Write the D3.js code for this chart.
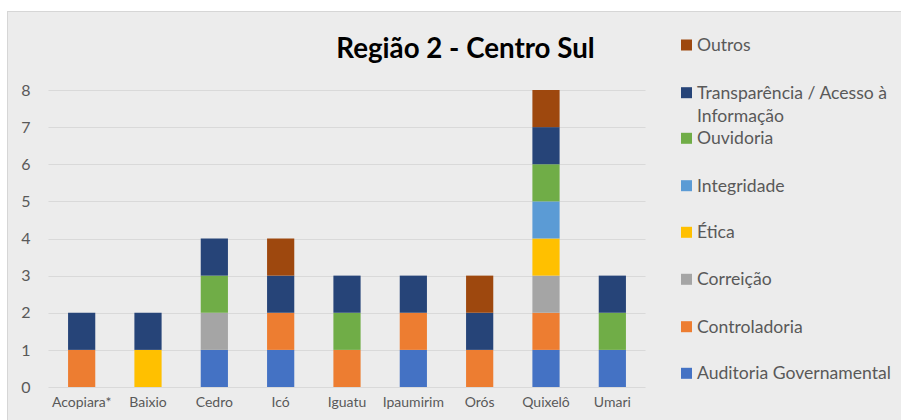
<!DOCTYPE html>
<html><head><meta charset="utf-8">
<script src="https://cdn.jsdelivr.net/npm/d3@7"></script>
<style>body{margin:0;background:#fff;}svg{display:block;}</style>
</head><body>
<svg id="c" width="901" height="420"></svg>
<script>
const categories = ["Acopiara*","Baixio","Cedro","Icó","Iguatu","Ipaumirim","Orós","Quixelô","Umari"];
const seriesNames = ["Auditoria Governamental","Controladoria","Correição","Ética","Integridade","Ouvidoria","Transparência / Acesso à Informação","Outros"];
const seriesColors = ["#4472C4","#ED7D31","#A5A5A5","#FFC000","#5B9BD5","#70AD47","#264478","#9E480E"];
const auditoria     = [0,0,1,1,0,1,0,1,1];
const controladoria = [1,0,0,1,1,1,1,1,0];
const correicao     = [0,0,1,0,0,0,0,1,0];
const etica         = [0,1,0,0,0,0,0,1,0];
const integridade   = [0,0,0,0,0,0,0,1,0];
const ouvidoria     = [0,0,1,0,1,0,0,1,1];
const transparencia = [1,1,1,1,1,1,1,1,1];
const outros        = [0,0,0,1,0,0,1,1,0];
const yTicks = [0,1,2,3,4,5,6,7,8];
const title = "Região 2 - Centro Sul";

const seriesValues = [auditoria,controladoria,correicao,etica,integridade,ouvidoria,transparencia,outros];
const rows = categories.map((c,i)=>{const r={cat:c};seriesNames.forEach((s,j)=>r[s]=seriesValues[j][i]);return r;});

const svg = d3.select("#c");
const font = "Lato, 'Open Sans', sans-serif";
svg.append("rect").attr("x",7.5).attr("y",11.5).attr("width",900).attr("height",420)
  .attr("fill","#ececec").attr("stroke","#d6d6d6");

const x = d3.scaleBand().domain(categories).range([48.5,645.5]).paddingInner(0.59).paddingOuter(0.295);
const y = d3.scaleLinear().domain([0,8]).range([387,90]);

// gridlines
svg.append("g").selectAll("line").data(yTicks).join("line")
  .attr("x1",48.5).attr("x2",645.5).attr("y1",d=>Math.round(y(d))+0.5).attr("y2",d=>Math.round(y(d))+0.5)
  .attr("stroke","#d9d9d9").attr("stroke-width",1);

const stack = d3.stack().keys(seriesNames)(rows);
svg.append("g").selectAll("g").data(stack).join("g")
  .attr("fill",(d,i)=>seriesColors[i])
  .selectAll("rect").data(d=>d.filter(p=>p[1]>p[0])).join("rect")
  .attr("x",d=>x(d.data.cat)).attr("width",x.bandwidth())
  .attr("y",d=>y(d[1])).attr("height",d=>y(d[0])-y(d[1]));

// y axis
const ya = svg.append("g").attr("transform","translate(33,0)")
  .call(d3.axisLeft(y).tickValues(yTicks).tickSize(0).tickPadding(0));
ya.select(".domain").remove();
ya.selectAll("text").attr("font-family",font).attr("font-size",16).attr("fill","#595959").attr("text-anchor","middle").attr("dx",-7);

// x axis
const xa = svg.append("g").attr("transform","translate(0,398)")
  .call(d3.axisBottom(x).tickSize(0).tickPadding(0));
xa.select(".domain").remove();
xa.selectAll("text").attr("font-family",font).attr("font-size",14).attr("fill","#595959").attr("dy","0.65em");

// title
svg.append("text").attr("x",465.5).attr("y",58).attr("text-anchor","middle")
  .attr("font-family",font).attr("font-weight","bold").attr("font-size",27.7).attr("fill","#000").text(title);

// legend
const legendOrder = seriesNames.map((s,i)=>i).reverse();
const legendY = [45,92.7,138.3,185.7,232.3,279.3,326.7,373.3];
const lg = svg.append("g");
legendOrder.forEach((si,k)=>{
  const cy = legendY[k];
  lg.append("rect").attr("x",681).attr("y",cy-5.5).attr("width",11).attr("height",11).attr("fill",seriesColors[si]);
  const t = lg.append("text").attr("x",697).attr("y",cy).attr("dy","0.35em")
    .attr("font-family",font).attr("font-size",17.6).attr("fill","#595959");
  if (si===6) {
    t.append("tspan").attr("x",697).text("Transparência / Acesso à");
    t.append("tspan").attr("x",697).attr("dy","1.32em").text("Informação");
  } else t.text(seriesNames[si]);
});
</script>
</body></html>
